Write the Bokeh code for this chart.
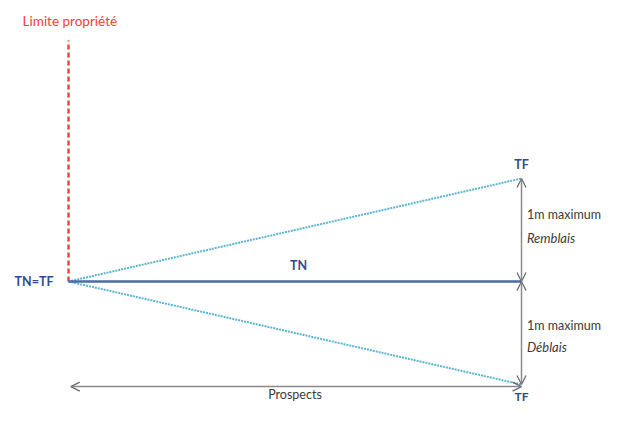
from bokeh.plotting import figure
from bokeh.models import Range1d, Arrow, OpenHead, ColumnDataSource
from bokeh.core.properties import value
from bokeh.embed import file_html
from bokeh.resources import INLINE

# Diagram data (abstract units: x = distance, y = height relative to TN, 1 unit = 1 m)
x_origin = 0.0
x_end = 10.0
tn_level = 0.0
remblais_max = 1.0
deblais_max = -1.0
limite_top = 2.34
prospect_level = -1.02

labels_text = ["Limite propriété", "TN=TF", "TN", "TF", "TF", "1m maximum", "1m maximum", "Prospects"]
labels_x = [0.03, -0.33, 5.08, 10.0, 10.0, 10.12, 10.12, 5.0]
labels_y = [2.53, 0.0, 0.16, 1.14, -1.12, 0.65, -0.43, -1.10]
italic_text = ["Remblais", "Déblais"]
italic_x = [10.12, 10.12]
italic_y = [0.42, -0.64]

# pixel mapping: x 0 -> 68px, 10 -> 521px ; y 0 -> 281px, 1 unit = 103px
sx = 45.3
sy = 103.0
x0px, y0px = 68, 281
W, H = 606, 405
xr = Range1d((0 - x0px) / sx, (W - x0px) / sx)
yr = Range1d((y0px - H) / sy, y0px / sy)

p = figure(width=W, height=H, x_range=xr, y_range=yr, output_backend="svg",
           toolbar_location=None, min_border=0)
p.axis.visible = False
p.grid.visible = False
p.outline_line_color = None
p.background_fill_color = "white"
p.border_fill_color = "white"

# Limite propriété dashed red line
p.line([x_origin, x_origin], [tn_level, limite_top], line_color="#ff3b3b", line_width=2.4, line_dash="5 3")

# dotted TF lines
p.line([x_origin, x_end], [tn_level, remblais_max], line_color="#5ab4d2", line_width=2, line_dash="2 1")
p.line([x_origin, x_end], [tn_level, deblais_max], line_color="#5ab4d2", line_width=2, line_dash="2 1")

# TN line
p.line([x_origin, x_end], [tn_level, tn_level], line_color="#4a6aa6", line_width=2.6)

head = dict(size=9, line_color="#6a6a6a", line_width=1.3)
# vertical double arrows
for y0, y1 in [(tn_level, remblais_max), (tn_level, deblais_max)]:
    p.add_layout(Arrow(start=OpenHead(**head), end=OpenHead(**head),
                       x_start=x_end, y_start=y0, x_end=x_end, y_end=y1,
                       line_color="#8a8a8a", line_width=1.5))

# bottom horizontal arrow
p.add_layout(Arrow(start=OpenHead(**head), end=OpenHead(**head),
                   x_start=x_origin + 0.05, y_start=prospect_level, x_end=x_end, y_end=prospect_level,
                   line_color="#8a8a8a", line_width=1.5))

colors = ["#ff3b3b", "#2f4d8c", "#2f4d8c", "#2f4d8c", "#2f4d8c", "#3a3a3a", "#3a3a3a", "#3a3a3a"]
styles = ["normal", "bold", "bold", "bold", "bold", "normal", "normal", "normal"]
aligns = ["center", "right", "center", "center", "center", "left", "left", "center"]
sizes = ["13.5px", "12.5px", "12.5px", "12.5px", "12px", "12.5px", "12.5px", "12.5px"]
src = ColumnDataSource(dict(x=labels_x, y=labels_y, t=labels_text, c=colors, s=styles, a=aligns, z=sizes))
p.text(x="x", y="y", text="t", text_color="c", text_font_style="s", text_align="a",
       text_font_size="z", text_baseline="middle", text_font=value("Lato"), source=src)

p.text(x=italic_x, y=italic_y, text=italic_text, text_color="#3a3a3a", text_font_style="italic",
       text_align="left", text_font_size="13px", text_baseline="middle", text_font=value("Lato"))

open("out.html", "w").write(file_html(p, INLINE))
